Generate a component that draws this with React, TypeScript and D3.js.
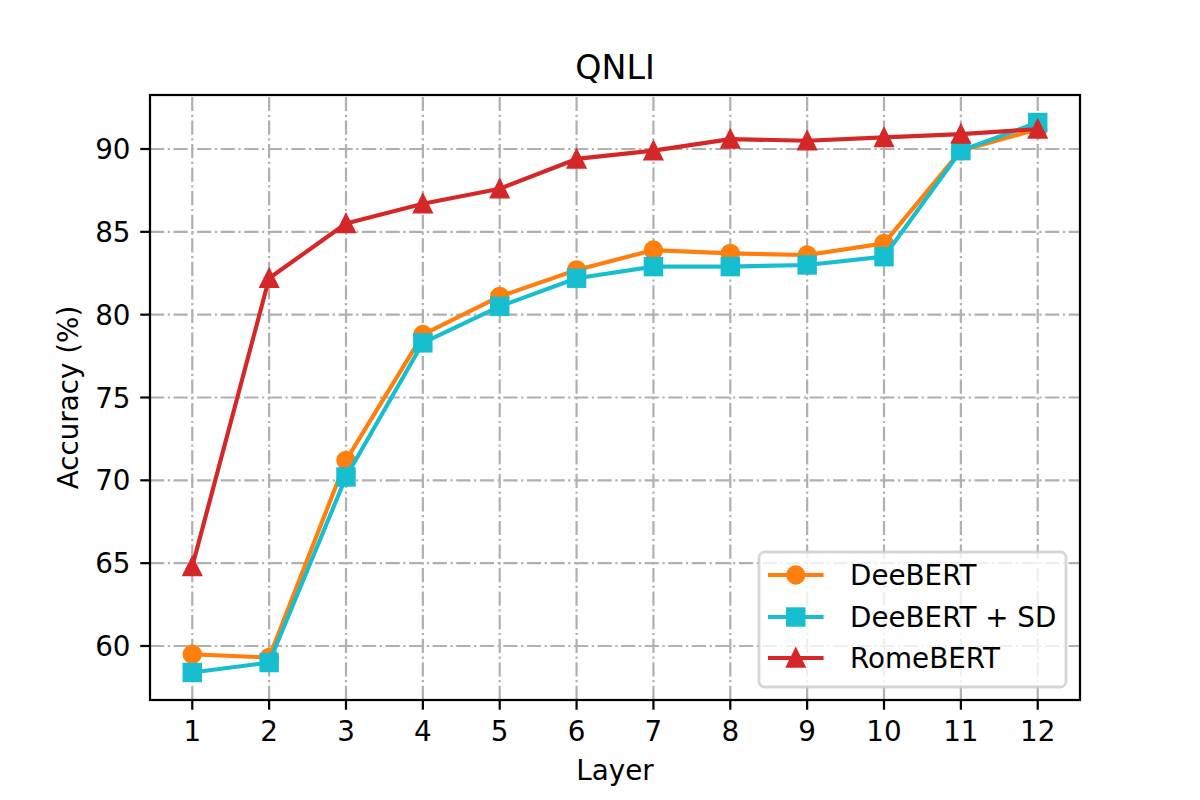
import React from "react";
import * as d3 from "d3";

const layers = [1, 2, 3, 4, 5, 6, 7, 8, 9, 10, 11, 12];
const deebert = [59.5, 59.3, 71.2, 78.8, 81.1, 82.7, 83.9, 83.7, 83.6, 84.3, 89.9, 91.2];
const deebertSD = [58.4, 59.0, 70.2, 78.3, 80.5, 82.2, 82.9, 82.9, 83.0, 83.5, 89.9, 91.6];
const romebert = [64.8, 82.2, 85.5, 86.7, 87.6, 89.4, 89.9, 90.6, 90.5, 90.7, 90.9, 91.2];
const yTicks = [60, 65, 70, 75, 80, 85, 90];
const seriesNames = ["DeeBERT", "DeeBERT + SD", "RomeBERT"];
const seriesColors = ["#ff7f0e", "#17becf", "#d62728"];
const seriesMarkers = ["circle", "square", "triangle"];

const W = 1200, H = 800;
const L = 150, R = 1080, T = 95, B = 700;
const PT = 200 / 72;
const FONT = "DejaVu Sans, sans-serif";
const FS = 10 * PT;

function Marker({ kind, x, y, color }: { kind: string; x: number; y: number; color: string }) {
  const s = 3 * PT;
  const sw = 1 * PT;
  if (kind === "circle") return <circle cx={x} cy={y} r={s} fill={color} stroke={color} strokeWidth={sw} />;
  if (kind === "square")
    return <rect x={x - s} y={y - s} width={2 * s} height={2 * s} fill={color} stroke={color} strokeWidth={sw} strokeLinejoin="miter" />;
  return (
    <path
      d={`M${x},${y - s}L${x - s},${y + s}L${x + s},${y + s}Z`}
      fill={color}
      stroke={color}
      strokeWidth={sw}
      strokeLinejoin="miter"
    />
  );
}

export default function App() {
  const all = [...deebert, ...deebertSD, ...romebert];
  const ymin = d3.min(all)!, ymax = d3.max(all)!;
  const ym = (ymax - ymin) * 0.05;
  const xm = (12 - 1) * 0.05;
  const x = d3.scaleLinear().domain([1 - xm, 12 + xm]).range([L, R]);
  const y = d3.scaleLinear().domain([ymin - ym, ymax + ym]).range([B, T]);
  const data = [deebert, deebertSD, romebert];
  const line = d3.line<number>().x((_, i) => x(layers[i])).y((d) => y(d));
  const gridDash = [6.4, 1.6, 1.0, 1.6].map((v) => v * 0.8 * PT).join(",");
  const tickLen = 3.5 * PT;
  const tickW = 0.8 * PT;

  const legX = 759, legY = 552, legW = 307, legH = 135;
  const legRows = [575, 617, 658];

  return (
    <svg width={W} height={H} style={{ position: "absolute", left: 0, top: 0, background: "#fff" }} fontFamily={FONT}>
      <rect x={0} y={0} width={W} height={H} fill="#fff" />
      {/* grid */}
      <g stroke="#b0b0b0" strokeWidth={0.8 * PT} strokeDasharray={gridDash} fill="none">
        {layers.map((l) => (
          <line key={"gx" + l} x1={x(l)} x2={x(l)} y1={B} y2={T} />
        ))}
        {yTicks.map((t) => (
          <line key={"gy" + t} x1={L} x2={R} y1={y(t)} y2={y(t)} />
        ))}
      </g>
      {/* ticks */}
      <g stroke="#000" strokeWidth={tickW}>
        {layers.map((l) => (
          <line key={"tx" + l} x1={x(l)} x2={x(l)} y1={B} y2={B + tickLen} />
        ))}
        {yTicks.map((t) => (
          <line key={"ty" + t} x1={L - tickLen} x2={L} y1={y(t)} y2={y(t)} />
        ))}
      </g>
      <g fontSize={FS} fill="#000">
        {layers.map((l) => (
          <text key={"lx" + l} x={x(l)} y={741} textAnchor="middle">
            {l}
          </text>
        ))}
        {yTicks.map((t) => (
          <text key={"ly" + t} x={130.5} y={y(t)} dy="0.36em" textAnchor="end">
            {t}
          </text>
        ))}
      </g>
      {/* series */}
      {data.map((ser, si) => (
        <g key={"s" + si}>
          <path d={line(ser)!} fill="none" stroke={seriesColors[si]} strokeWidth={1.5 * PT} strokeLinejoin="round" strokeLinecap="square" />
          {ser.map((v, i) => (
            <Marker key={i} kind={seriesMarkers[si]} x={x(layers[i])} y={y(v)} color={seriesColors[si]} />
          ))}
        </g>
      ))}
      {/* spines */}
      <rect x={L} y={T} width={R - L} height={B - T} fill="none" stroke="#000" strokeWidth={0.8 * PT} />
      {/* title and labels */}
      <text x={(L + R) / 2} y={78.5} textAnchor="middle" fontSize={12 * PT}>
        QNLI
      </text>
      <text x={(L + R) / 2} y={780} textAnchor="middle" fontSize={FS}>
        Layer
      </text>
      <text transform={`translate(78,${(T + B) / 2}) rotate(-90)`} textAnchor="middle" fontSize={FS}>
        Accuracy (%)
      </text>
      {/* legend */}
      <g>
        <rect x={legX} y={legY} width={legW} height={legH} rx={0.2 * FS} ry={0.2 * FS} fill="#fff" fillOpacity={0.8} stroke="#cccccc" strokeOpacity={0.8} strokeWidth={1 * PT} />
        {seriesNames.map((n, i) => (
          <g key={"leg" + i}>
            <line x1={768} x2={768 + 2 * FS} y1={legRows[i]} y2={legRows[i]} stroke={seriesColors[i]} strokeWidth={1.5 * PT} />
            <Marker kind={seriesMarkers[i]} x={768 + FS} y={legRows[i]} color={seriesColors[i]} />
            <text x={850} y={legRows[i]} dy="0.36em" fontSize={FS}>
              {n}
            </text>
          </g>
        ))}
      </g>
    </svg>
  );
}
